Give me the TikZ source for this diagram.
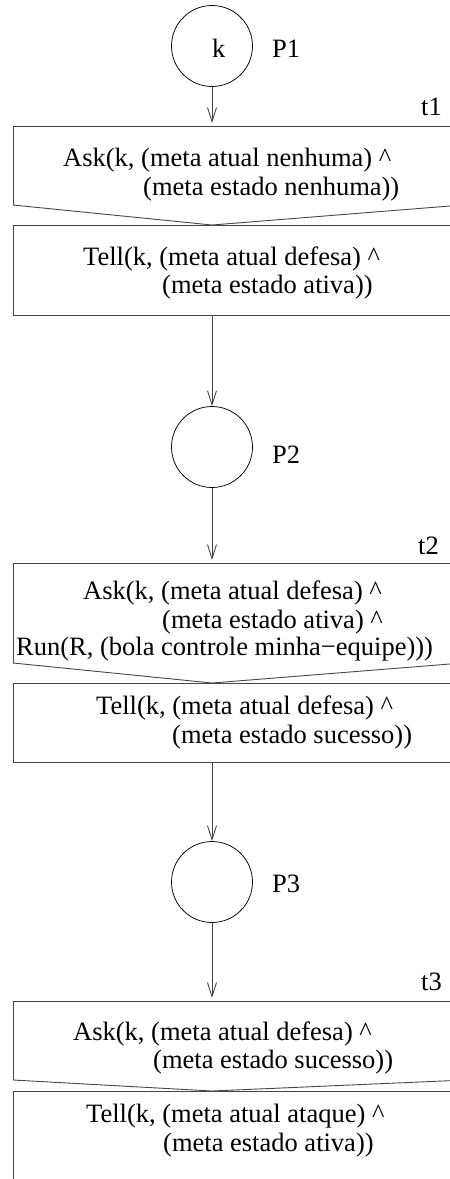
\documentclass[tikz,border=0pt]{standalone}
\usepackage{fontspec}
\setmainfont{Liberation Serif}
\usetikzlibrary{arrows.meta}
\begin{document}
\begin{tikzpicture}[x=1pt,y=-1pt,
  box/.style={draw=black!72, line width=0.9pt},
  place/.style={circle, draw=black, line width=0.75pt, minimum size=81pt, inner sep=0pt},
  arr/.style={draw=black!72, line width=0.9pt, -{Straight Barb[length=14pt,width=9pt]}},
  txt/.style={anchor=base west, inner sep=0pt, font=\fontsize{26.5}{28.5}\selectfont}]
\useasboundingbox (0,0) rectangle (450,1179);
\clip (0,0) rectangle (450,1179);

% places
\node[place] (p1) at (212,46) {};
\node[place] (p2) at (212,447) {};
\node[place] (p3) at (212,882) {};
\node[txt] (ktok) at (212,57) {k};
\node[txt] (lp1) at (272,57) {P1};
\node[txt] (lp2) at (272,463) {P2};
\node[txt] (lp3) at (272,892) {P3};
\node[txt] (lt1) at (421,115) {t1};
\node[txt] (lt2) at (418,554) {t2};
\node[txt] (lt3) at (421,990) {t3};

% transition 1
\draw[box] (13,205) -- (13,126) -- (470,126);
\draw[box] (13,205) -- (212,225) -- (470,204.4);
\draw[box] (470,225) -- (13,225) -- (13,315) -- (470,315);
\coordinate (t1in) at (212,123);
\coordinate (t1out) at (212,315);
\node[txt] (a1a) at (63,166.5) {Ask(k, (meta atual nenhuma) \textasciicircum};
\node[txt] (a1b) at (143,195) {(meta estado nenhuma))};
\node[txt] (e1a) at (83,265) {Tell(k, (meta atual defesa) \textasciicircum};
\node[txt] (e1b) at (162,293) {(meta estado ativa))};

% transition 2
\draw[box] (13,663) -- (13,563) -- (470,563);
\draw[box] (13,663) -- (212,683) -- (470,662.4);
\draw[box] (470,683) -- (13,683) -- (13,762) -- (470,762);
\coordinate (t2in) at (212,560);
\coordinate (t2out) at (212,762);
\node[txt] (a2a) at (83,599) {Ask(k, (meta atual defesa) \textasciicircum};
\node[txt] (a2b) at (162,628) {(meta estado ativa) \textasciicircum};
\node[txt] (a2c) at (16,655) {Run(R, (bola controle minha−equipe)))};
\node[txt] (e2a) at (96,714) {Tell(k, (meta atual defesa) \textasciicircum};
\node[txt] (e2b) at (172,743) {(meta estado sucesso))};

% transition 3
\draw[box] (13,1080) -- (13,1001) -- (470,1001);
\draw[box] (13,1080) -- (212,1091) -- (470,1079.8);
\draw[box] (470,1091) -- (13,1091) -- (13,1190);
\coordinate (t3in) at (212,998);
\node[txt] (a3a) at (73,1040) {Ask(k, (meta atual defesa) \textasciicircum};
\node[txt] (a3b) at (153,1068) {(meta estado sucesso))};
\node[txt] (e3a) at (86,1122) {Tell(k, (meta atual ataque) \textasciicircum};
\node[txt] (e3b) at (163,1151) {(meta estado ativa))};

% arcs
\draw[arr] (p1) -- (t1in);
\draw[arr] (t1out) -- (p2);
\draw[arr] (p2) -- (t2in);
\draw[arr] (t2out) -- (p3);
\draw[arr] (p3) -- (t3in);
\end{tikzpicture}
\end{document}
